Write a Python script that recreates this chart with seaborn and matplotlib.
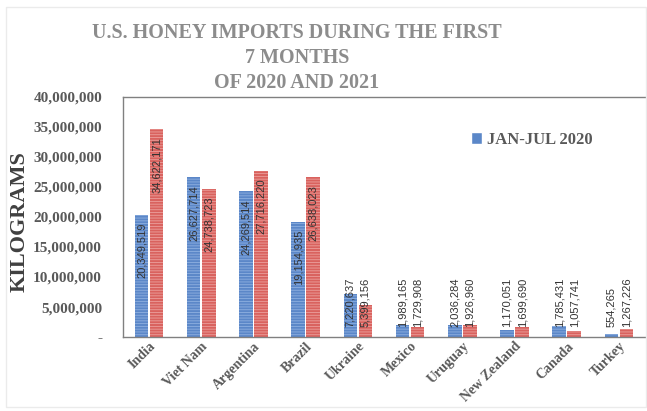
#!/usr/bin/env python3

import pandas as pd
import matplotlib.pyplot as plt
import matplotlib.ticker as mtick
from matplotlib.patches import Rectangle
import seaborn as sns

countries = ["India", "Viet Nam", "Argentina", "Brazil", "Ukraine",
             "Mexico", "Uruguay", "New Zealand", "Canada", "Turkey"]
jan_jul_2020 = [20349519, 26627714, 24269514, 19154935, 7220637,
                1989165, 2036284, 1170051, 1785431, 554265]
jan_jul_2021 = [34622171, 24738723, 27716220, 26638023, 5399156,
                1729908, 1926960, 1699690, 1057741, 1267226]
series = ["JAN-JUL 2020", "JAN-JUL 2021"]

BLUE = "#5b87c8"
RED = "#d9625e"
SERIF = "Liberation Serif"

df = pd.DataFrame({
    "country": countries * 2,
    "period": [series[0]] * len(countries) + [series[1]] * len(countries),
    "kg": jan_jul_2020 + jan_jul_2021,
})

sns.set_style("white")
plt.rcParams["hatch.linewidth"] = 0.6

fig = plt.figure(figsize=(6.47, 4.11), dpi=100)
# faint outer frame of the pasted chart
fig.patches.append(Rectangle((6 / 647, 4 / 411), 640 / 647, 400 / 411,
                             transform=fig.transFigure, fill=False,
                             edgecolor="#ebebeb", linewidth=1))
ax = fig.add_axes([0.190, 0.180, 0.807, 0.584])

sns.barplot(data=df, x="country", y="kg", hue="period", order=countries,
            hue_order=series, palette=[BLUE, RED], width=0.58, gap=0.1,
            saturation=1, ax=ax, legend=True)

# striped fill like the original export
for bar_container, light in zip(ax.containers, ["#8fb0e0", "#eba09d"]):
    for patch in bar_container:
        patch.set_edgecolor(light)
        patch.set_linewidth(0)
        patch.set_hatch("------")

# data labels, rotated inside the bars
for bar_container in ax.containers:
    for patch in bar_container:
        val = patch.get_height()
        xc = patch.get_x() + patch.get_width() / 2
        if val > 11_000_000:
            ax.text(xc, val - 1_300_000, f"{val:,.0f}", rotation=90,
                    ha="center", va="top", fontsize=8, color="#333333",
                    family="Liberation Sans")
        else:
            ax.text(xc, 1_700_000, f"{val:,.0f}", rotation=90,
                    ha="center", va="bottom", fontsize=8, color="#333333",
                    family="Liberation Sans")

ax.set_ylim(0, 40_000_000)
ax.set_xlim(-0.5, len(countries) - 0.5)
ax.yaxis.set_major_locator(mtick.MultipleLocator(5_000_000))
ax.yaxis.set_major_formatter(mtick.FuncFormatter(
    lambda v, p: "-" if v == 0 else f"{v:,.0f}"))

for lab in ax.get_yticklabels():
    lab.set_fontfamily(SERIF)
    lab.set_fontweight("bold")
    lab.set_fontsize(11)
    lab.set_color("#595959")
ax.tick_params(axis="y", length=0, pad=15)
ax.tick_params(axis="x", length=0, pad=2)
ax.set_xticks(range(len(countries)))
ax.set_xticklabels(countries, rotation=45, ha="right", rotation_mode="anchor",
                   fontfamily=SERIF, fontweight="bold", fontsize=10,
                   color="#595959")

ax.set_xlabel("")
ax.set_ylabel("")
fig.text(0.031, 0.46, "KILOGRAMS", rotation=90, ha="center", va="center",
         fontfamily=SERIF, fontweight="bold", fontsize=16, color="#404040")

for side in ["left", "top", "bottom"]:
    ax.spines[side].set_color("#808080")
    ax.spines[side].set_linewidth(1)
ax.spines["right"].set_visible(False)

handles, labels = ax.get_legend_handles_labels()
ax.legend(handles[:1], labels[:1], loc="upper left",
          bbox_to_anchor=(0.637, 0.917), frameon=False, handlelength=0.7,
          handleheight=0.7, handletextpad=0.3,
          prop={"family": SERIF, "weight": "bold", "size": 12},
          labelcolor="#595959")

title_lines = ["U.S. HONEY IMPORTS DURING THE FIRST", "7 MONTHS",
               "OF 2020 AND 2021"]
for i, line in enumerate(title_lines):
    fig.text(0.459, 1 - (33 + 25 * i) / 411, line, ha="center",
             va="center", fontfamily=SERIF, fontweight="bold", fontsize=14.5,
             color="#8c8c8c")

plt.savefig("out.png", dpi=100)
